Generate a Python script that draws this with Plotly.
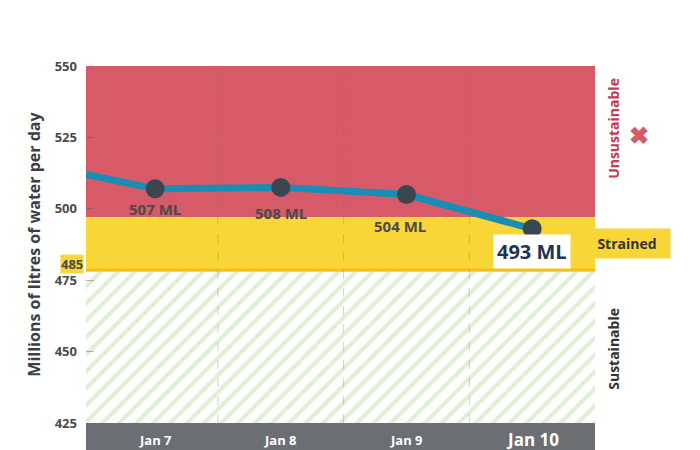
import plotly.graph_objects as go

days = ["Jan 7", "Jan 8", "Jan 9", "Jan 10"]
usage = [507, 507.5, 505, 493]
labels = ["507 ML", "508 ML", "504 ML", "493 ML"]
start_value = 512          # line enters from the left edge
y_ticks = [425, 450, 475, 500, 525, 550]
strained_band = [478, 497]
x_pos = list(range(len(days)))
x_lo, x_hi = -0.55, 3.5

fig = go.Figure()

# zones
fig.add_hrect(y0=strained_band[1], y1=550, fillcolor="#d65a67", line_width=0, layer="below")
fig.add_hrect(y0=strained_band[0], y1=strained_band[1], fillcolor="#f8d637", line_width=0, layer="below")
fig.add_hline(y=strained_band[0] + 0.6, line_color="#f0c020", line_width=3)
fig.add_trace(go.Scatter(x=[x_lo, x_hi, x_hi, x_lo], y=[425, 425, strained_band[0], strained_band[0]],
                         fill="toself", mode="none", fillcolor="white",
                         fillpattern=dict(shape="/", fgcolor="#bfe0ab", bgcolor="white", size=12, solidity=0.35),
                         hoverinfo="skip", showlegend=False))

# dashed separators
for i in range(len(days) - 1):
    fig.add_vline(x=i + 0.5, line_dash="dash", line_color="rgba(120,120,120,0.35)", line_width=1)

# line
fig.add_trace(go.Scatter(x=[x_lo] + x_pos, y=[start_value] + usage, mode="lines",
                         line=dict(color="#1a8db5", width=7), showlegend=False))
fig.add_trace(go.Scatter(x=x_pos, y=usage, mode="markers",
                         marker=dict(color="#3c4650", size=19), showlegend=False))

offsets = [-7, -9, -11, -8]
for i, (lab, v) in enumerate(zip(labels, usage)):
    last = i == len(days) - 1
    fig.add_annotation(x=x_pos[i] - (0.05 if i == 2 else 0), y=v + offsets[i], text="<b>%s</b>" % lab,
                       showarrow=False,
                       font=dict(size=20 if last else 15, color="#1d3554" if last else "#4a4a4a",
                                 family="Open Sans"),
                       bgcolor="white" if last else None, borderpad=3)

# x category bar
fig.add_shape(type="rect", xref="x", yref="paper", x0=x_lo, x1=x_hi, y0=-0.094, y1=0,
              fillcolor="#6b6e72", line_width=0)
for i, d in enumerate(days):
    last = i == len(days) - 1
    fig.add_annotation(x=x_pos[i], y=-0.047, yref="paper", yanchor="middle", text="<b>%s</b>" % d,
                       showarrow=False,
                       font=dict(size=17 if last else 13, color="white", family="Open Sans"))

# 485 marker
fig.add_annotation(x=0, xref="paper", xanchor="right", y=480.5, text="<b>485</b>", showarrow=False,
                   bgcolor="#f8d637", font=dict(size=13, color="#4a4a4a", family="Open Sans"),
                   xshift=-2, borderpad=0)

# side labels
fig.add_annotation(x=1.06, xref="paper", y=528, text="<b>Unsustainable</b>", textangle=-90,
                   showarrow=False, font=dict(size=14, color="#c43a52", family="Open Sans"))
fig.add_annotation(x=1.11, xref="paper", y=526, text="<b>✖</b>", showarrow=False,
                   font=dict(size=24, color="#d65a67"))
fig.add_annotation(x=1.15, xref="paper", y=488, text="<b>Strained</b>", showarrow=False,
                   bgcolor="#f8d637", borderpad=5, width=76,
                   font=dict(size=14, color="#333333", family="Open Sans"))
fig.add_annotation(x=1.06, xref="paper", y=451, text="<b>Sustainable</b>", textangle=-90,
                   showarrow=False, font=dict(size=14, color="#333333", family="Open Sans"))

fig.update_layout(
    width=700, height=450, margin=dict(l=78, r=113, t=58, b=35),
    plot_bgcolor="white", paper_bgcolor="white",
    xaxis=dict(range=[x_lo, x_hi], showticklabels=False, showgrid=False, zeroline=False, automargin=False),
    yaxis=dict(range=[425, 550], tickvals=y_ticks, showgrid=False, zeroline=False, automargin=False,
               ticks="inside", ticklen=8, tickcolor="rgba(80,80,80,0.4)",
               tickfont=dict(size=13, color="#4a4a4a", family="Open Sans", weight="bold"),
               ticklabelstandoff=8,
               title=dict(text="<b>Millions of litres of water per day</b>", standoff=10,
                          font=dict(size=16, color="#3a3f47", family="Open Sans"))),
)
fig.write_html("out.html")
